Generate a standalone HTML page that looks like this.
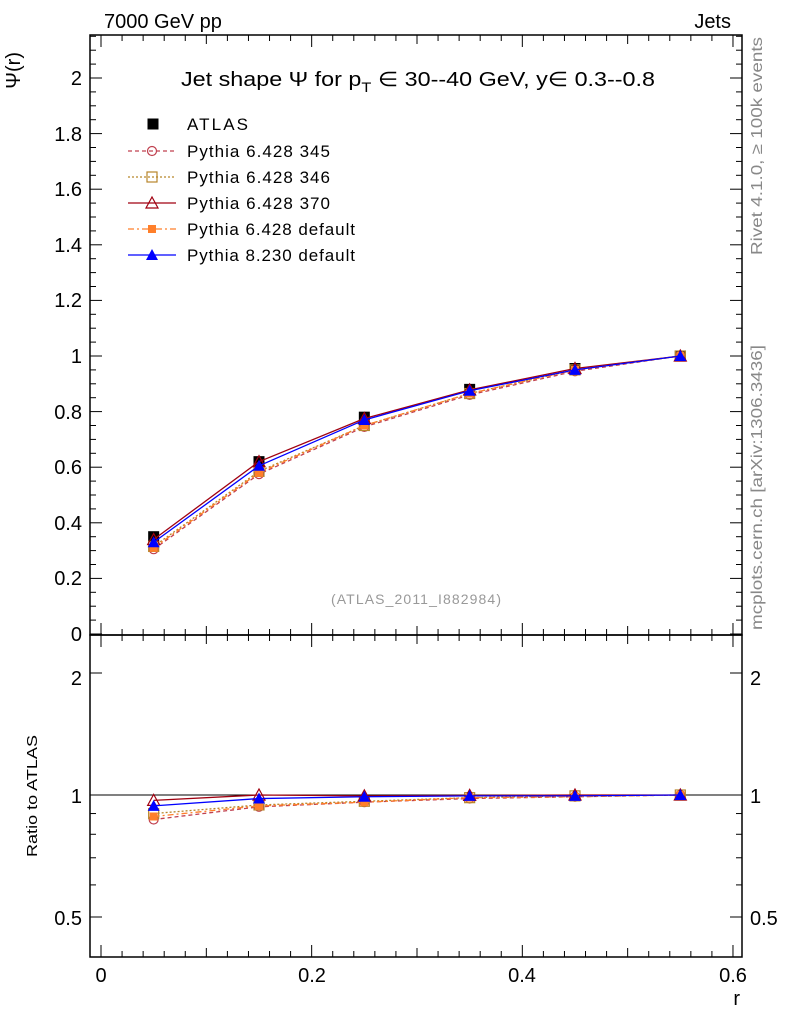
<!DOCTYPE html>
<html><head><meta charset="utf-8"><style>
body{margin:0;background:#fff;}
svg text{font-family:"Liberation Sans",sans-serif;}
</style></head><body>
<svg id="s" width="786" height="1024" xmlns="http://www.w3.org/2000/svg">
<rect x="0" y="0" width="786" height="1024" fill="#fff"/>
<text x="104" y="28" font-size="20">7000 GeV pp</text>
<text x="731" y="28" font-size="20" text-anchor="end">Jets</text>
<text x="20" y="52" font-size="20" transform="rotate(-90 20 52)" text-anchor="end">Ψ(r)</text>
<text x="181" y="86" font-size="20">Jet shape Ψ for p<tspan font-size="14" dy="6">T</tspan><tspan dy="-6"> ∈ 30--40 GeV, y∈ 0.3--0.8</tspan></text>
<text x="416" y="604" font-size="14" fill="#999" text-anchor="middle" textLength="170">(ATLAS_2011_I882984)</text>
<text transform="translate(762 255) rotate(-90)" font-size="16" fill="#888" textLength="218" lengthAdjust="spacingAndGlyphs">Rivet 4.1.0, ≥ 100k events</text>
<text transform="translate(762 630) rotate(-90)" font-size="16" fill="#888" textLength="285" lengthAdjust="spacingAndGlyphs">mcplots.cern.ch [arXiv:1306.3436]</text>
<text transform="translate(37 857) rotate(-90)" font-size="15" textLength="122" lengthAdjust="spacingAndGlyphs">Ratio to ATLAS</text>
<text x="740" y="1005" font-size="20" text-anchor="end">r</text>
<g font-size="20" text-anchor="end">
<text x="82" y="641">0</text><text x="82" y="585">0.2</text><text x="82" y="530">0.4</text><text x="82" y="474">0.6</text><text x="82" y="419">0.8</text><text x="82" y="363">1</text><text x="82" y="307">1.2</text><text x="82" y="252">1.4</text><text x="82" y="196">1.6</text><text x="82" y="141">1.8</text><text x="82" y="85">2</text>
<text x="82" y="685">2</text><text x="82" y="803">1</text><text x="82" y="925">0.5</text>
</g>
<g font-size="20" text-anchor="start">
<text x="750" y="685">2</text><text x="750" y="803">1</text><text x="750" y="925">0.5</text>
</g>
<g font-size="20" text-anchor="middle">
<text x="101" y="982">0</text><text x="312" y="982">0.2</text><text x="522" y="982">0.4</text><text x="733" y="982">0.6</text>
</g>
<g font-size="17" lengthAdjust="spacingAndGlyphs">
<text x="187" y="130" textLength="61">ATLAS</text>
<text x="187" y="157" textLength="143">Pythia 6.428 345</text>
<text x="187" y="183" textLength="143">Pythia 6.428 346</text>
<text x="187" y="209" textLength="143">Pythia 6.428 370</text>
<text x="187" y="235" textLength="168">Pythia 6.428 default</text>
<text x="187" y="261" textLength="168">Pythia 8.230 default</text>
</g>
<g id="g"></g>
</svg>
<script>
const NS="http://www.w3.org/2000/svg",g=document.getElementById('g');
function el(t,a){const e=document.createElementNS(NS,t);for(const k in a)e.setAttribute(k,a[k]);g.appendChild(e);return e;}
function ln(x1,y1,x2,y2,c,w,d){el('line',{x1,y1,x2,y2,stroke:c||'#000','stroke-width':w||1,'stroke-dasharray':d||'none'});}
const L=90,R=742,T=35,M=635,B=957;
const X=v=>101+v*1053.3, Y=v=>634-278*v, YR=r=>795-122*Math.log2(r);
el('rect',{x:L,y:T,width:R-L,height:M-T,fill:'none',stroke:'#000','stroke-width':1.5});
el('rect',{x:L,y:M,width:R-L,height:B-M,fill:'none',stroke:'#000','stroke-width':1.5});
for(let i=0;i<=43;i++){const v=i*0.05,y=Y(v);if(y<T)break;const l=i%4==0?12:6;ln(L,y,L+l,y);ln(R,y,R-l,y);}
[0.5,0.6,0.7,0.8,0.9,1,2].forEach(r=>{const y=YR(r),l=(r==0.5||r==1||r==2)?12:6;ln(L,y,L+l,y);ln(R,y,R-l,y);});
ln(L,YR(1),R,YR(1));
for(let i=0;i<=32;i++){const v=i*0.02,x=X(v);if(x>R)break;const l=i%10==0?12:(i%5==0?9:6);
 ln(x,M,x,M-l);ln(x,T,x,T+l);ln(x,B,x,B-l);ln(x,M,x,M+l);}
const xs=[0.05,0.15,0.25,0.35,0.45,0.55];
const atlas=[0.35,0.62,0.78,0.88,0.955,1.0];
const S=[
 {c:'#c0404f',d:'4,3',m:'o',v:[0.305,0.575,0.745,0.86,0.945,1],r:[0.87,0.935,0.96,0.98,0.99,1]},
 {c:'#b8862b',d:'2,2',m:'s',v:[0.315,0.585,0.75,0.865,0.95,1],r:[0.9,0.945,0.965,0.985,0.995,1]},
 {c:'#a00010',d:'none',m:'t',v:[0.34,0.62,0.775,0.878,0.955,1],r:[0.97,1.0,0.995,0.998,1,1]},
 {c:'#ff7f2a',d:'6,3,2,3',m:'S',v:[0.31,0.58,0.75,0.865,0.95,1],r:[0.885,0.94,0.96,0.985,0.99,1]},
 {c:'#0000ff',d:'none',m:'T',v:[0.33,0.605,0.77,0.875,0.95,1],r:[0.94,0.98,0.99,0.995,0.995,1]}];
function mk(m,x,y,c){
 if(m=='o')el('circle',{cx:x,cy:y,r:4.5,fill:'none',stroke:c,'stroke-width':1.2});
 if(m=='s')el('rect',{x:x-5,y:y-5,width:10,height:10,fill:'none',stroke:c,'stroke-width':1.2});
 if(m=='S')el('rect',{x:x-4,y:y-4,width:8,height:8,fill:c});
 if(m=='B')el('rect',{x:x-5.5,y:y-5.5,width:11,height:11,fill:'#000'});
 if(m=='t')el('polygon',{points:`${x},${y-6} ${x-6},${y+5} ${x+6},${y+5}`,fill:'none',stroke:c,'stroke-width':1.2});
 if(m=='T')el('polygon',{points:`${x},${y-6} ${x-6},${y+5} ${x+6},${y+5}`,fill:c});
}
atlas.forEach((v,i)=>mk('B',X(xs[i]),Y(v)));
S.forEach(s=>{
 el('polyline',{points:xs.map((x,i)=>X(x)+','+Y(s.v[i])).join(' '),fill:'none',stroke:s.c,'stroke-width':1.3,'stroke-dasharray':s.d});
 el('polyline',{points:xs.map((x,i)=>X(x)+','+YR(s.r[i])).join(' '),fill:'none',stroke:s.c,'stroke-width':1.3,'stroke-dasharray':s.d});
 xs.forEach((x,i)=>{mk(s.m,X(x),Y(s.v[i]),s.c);mk(s.m,X(x),YR(s.r[i]),s.c);});
});
mk('B',153,124);
const ly=[151,177,203,229,255];
S.forEach((s,i)=>{ln(128,ly[i],176,ly[i],s.c,1.3,s.d);mk(s.m,152,ly[i],s.c);});
// widen title
const t=document.querySelector('text[x="181"]');t.setAttribute('textLength','474');t.setAttribute('lengthAdjust','spacingAndGlyphs');
</script>
</body></html>
